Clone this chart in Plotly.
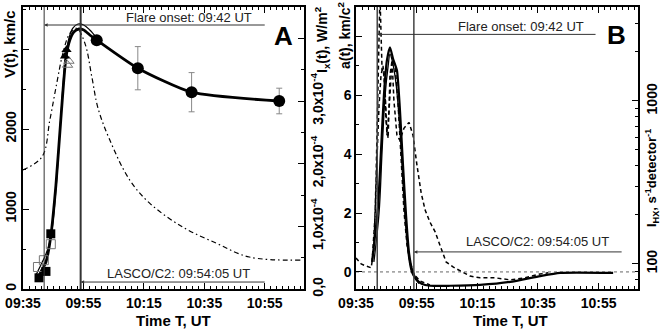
import plotly.graph_objects as go

W, H = 665, 331
def px(x): return x / W
def py(y): return 1 - y / H

FONT = "Liberation Sans, Arial, sans-serif"

# ---------------- DATA (time in minutes after 09:00) ----------------
x_tickvals = [35, 55, 75, 95, 115]
x_ticktext = ["09:35", "09:55", "10:15", "10:35", "10:55"]
flare_onset = 42.0          # 09:42 UT
lasco_time = 54.08          # 09:54:05 UT

# Panel A : CME velocity V(t), km/c
circ_t = [59.4, 73.0, 90.8, 119.8]
circ_v = [3110, 2760, 2460, 2350]
circ_err = [0, 270, 245, 160]

sq_fill_t = [40.3, 42.6, 44.2]
sq_fill_v = [140, 220, 690]
sq_open_t = [39.95, 41.9, 44.2]
sq_open_v = [275, 360, 560]

tri_fill_t = [48.9, 49.4]
tri_fill_v = [2910, 2990]
tri_open_t = [49.75, 50.2]
tri_open_v = [2800, 2850]

fit_t = [39.6, 40.9, 42.6, 44.2, 45.9, 47.5, 49.2, 50.5, 51.8, 53.5, 55.1, 57.1, 59.4, 73.0, 90.8, 119.8]
fit_v = [100, 212, 337, 662, 1300, 2112, 2887, 3112, 3212, 3250, 3237, 3175, 3112, 2760, 2460, 2350]

fit2_t = [39.3, 40.9, 42.6, 44.2, 45.9, 47.5, 48.9, 50.2, 51.5, 53.2, 55.1, 57.1, 59.4]
fit2_v = [175, 300, 437, 637, 1237, 2137, 2837, 3137, 3262, 3312, 3300, 3237, 3137]

# Panel A : soft X-ray flux Ix(t), W/m^2
ix_t = [35.0, 41.3, 43.9, 46.2, 48.2, 50.5, 52.8, 55.5, 57.8, 59.8, 63.7, 70.3, 76.9, 87.8, 99.0, 109.9, 127.1]
ix_v = [1.90e-4, 2.11e-4, 2.70e-4, 3.29e-4, 3.76e-4, 4.08e-4, 4.16e-4, 3.92e-4, 3.38e-4, 2.89e-4,
        2.38e-4, 1.74e-4, 1.37e-4, 0.99e-4, 0.73e-4, 0.51e-4, 0.46e-4]

# Panel B : acceleration a(t), km/c^2
acc1_t = [40.3, 41.3, 42.3, 43.25, 44.2, 45.2, 46.2, 47.2, 48.5, 49.5, 50.5, 51.5, 52.5, 53.5, 54.8,
          56.8, 59.4, 66.0, 75.9, 85.8, 95.7, 102.3, 119.8]
acc1_a = [0.34, 1.25, 2.27, 4.14, 6.0, 7.19, 7.63, 7.25, 6.85, 5.49, 3.63, 1.93, 0.64, 0.07, -0.24,
          -0.41, -0.47, -0.47, -0.44, -0.34, -0.14, -0.03, -0.03]
acc2_t = [40.9, 42.6, 43.6, 44.6, 45.6, 46.2, 46.9, 48.2, 49.5, 50.5, 51.5, 52.5, 53.5, 55.8]
acc2_a = [0.34, 2.0, 4.1, 6.0, 7.0, 7.4, 7.2, 6.4, 4.8, 3.0, 1.4, 0.4, -0.05, -0.4]

hx1_t = [35.0, 36.7, 38.3, 40.0, 40.9, 41.6, 42.3, 42.6, 42.9, 43.6, 44.2, 44.9, 45.6, 46.2, 46.9, 47.5,
         48.5, 49.5, 50.8, 52.5, 53.8, 55.1, 56.5, 57.8, 59.4, 61.1, 62.7, 64.7, 67.0, 70.0, 72.6, 75.9,
         80.9, 85.8, 90.8, 95.7, 98.4]
hx1_a = [0.47, 0.27, 0.2, 0.14, 0.75, 3.1, 6.5, 8.8, 9.4, 6.85, 6.9, 5.15, 4.54, 6.68, 7.19, 5.83,
         4.64, 4.47, 4.88, 5.08, 4.64, 3.63, 2.68, 2.1, 1.69, 1.36, 0.92, 0.34, 0.17, 0.0, -0.14, -0.2,
         -0.2, -0.27, -0.2, -0.07, -0.03]
hx2_t = [40.3, 41.3, 41.9, 42.6, 43.25, 43.9, 44.6, 45.2, 45.9, 46.9, 47.9, 48.9, 49.9, 50.8, 51.8,
         52.8, 54.1, 56.1, 59.4]
hx2_a = [0.34, 1.93, 3.8, 5.66, 6.68, 7.0, 6.17, 4.64, 5.49, 7.19, 7.0, 5.66, 3.8, 2.1, 0.92,
         0.34, -0.07, -0.31, -0.44]

v_tickvals = [0, 1000, 2000, 3000]
v_ticktext = ["0", "1000", "2000", ""]
ix_tickvals = [0, 1e-4, 2e-4, 3e-4, 4e-4]
ix_ticktext = ["0,0", "1,0x10<sup>-4</sup>", "2,0x10<sup>-4</sup>", "3,0x10<sup>-4</sup>", ""]
a_tickvals = [0, 2, 4, 6, 8]
a_ticktext = ["0", "2", "4", "6", ""]
hx_tickvals = [100, 1000]
hx_ticktext = ["100", "1000"]
hx_minor = [70, 80, 90, 200, 300, 400, 500, 600, 700, 800, 900, 2000, 3000]

# ---------------- FIGURE ----------------
fig = go.Figure()
BLK = "black"

# Panel A traces
fig.add_trace(go.Scatter(x=fit2_t, y=fit2_v, mode="lines", line=dict(color=BLK, width=1.2, shape="spline"),
                         xaxis="x", yaxis="y", showlegend=False))
fig.add_trace(go.Scatter(x=fit_t, y=fit_v, mode="lines", line=dict(color=BLK, width=2.8, shape="spline", smoothing=0.6),
                         xaxis="x", yaxis="y", showlegend=False))
fig.add_trace(go.Scatter(x=sq_open_t, y=sq_open_v, mode="markers",
                         marker=dict(symbol="square-open", size=9, color="#777", line=dict(width=1)),
                         xaxis="x", yaxis="y", showlegend=False))
fig.add_trace(go.Scatter(x=sq_fill_t, y=sq_fill_v, mode="markers",
                         marker=dict(symbol="square", size=9, color=BLK),
                         xaxis="x", yaxis="y", showlegend=False))
fig.add_trace(go.Scatter(x=tri_open_t, y=tri_open_v, mode="markers",
                         marker=dict(symbol="triangle-up-open", size=9, color="#777", line=dict(width=1)),
                         xaxis="x", yaxis="y", showlegend=False))
fig.add_trace(go.Scatter(x=tri_fill_t, y=tri_fill_v, mode="markers",
                         marker=dict(symbol="triangle-up", size=9, color=BLK),
                         xaxis="x", yaxis="y", showlegend=False))
fig.add_trace(go.Scatter(x=circ_t, y=circ_v, mode="markers",
                         marker=dict(symbol="circle", size=12, color=BLK),
                         error_y=dict(type="data", array=circ_err, color="#888", thickness=1, width=3),
                         xaxis="x", yaxis="y", showlegend=False))
fig.add_trace(go.Scatter(x=ix_t, y=ix_v, mode="lines",
                         line=dict(color=BLK, width=1.2, dash="5px,3px,1.5px,3px", shape="spline"),
                         xaxis="x", yaxis="y2", showlegend=False))

# Panel B traces
fig.add_trace(go.Scatter(x=[35, 128], y=[0, 0], mode="lines", line=dict(color="#666", width=1, dash="dot"),
                         xaxis="x2", yaxis="y3", showlegend=False))
fig.add_trace(go.Scatter(x=hx1_t, y=hx1_a, mode="lines", line=dict(color=BLK, width=1.5, dash="4px,3px"),
                         xaxis="x2", yaxis="y3", showlegend=False))
fig.add_trace(go.Scatter(x=hx2_t, y=hx2_a, mode="lines", line=dict(color=BLK, width=1.5, dash="4px,3px"),
                         xaxis="x2", yaxis="y3", showlegend=False))
fig.add_trace(go.Scatter(x=acc2_t, y=acc2_a, mode="lines", line=dict(color=BLK, width=1.3, shape="spline"),
                         xaxis="x2", yaxis="y3", showlegend=False))
fig.add_trace(go.Scatter(x=acc1_t, y=acc1_a, mode="lines", line=dict(color=BLK, width=2.2, shape="spline", smoothing=0.5),
                         xaxis="x2", yaxis="y3", showlegend=False))
fig.add_trace(go.Scatter(x=[None], y=[None], mode="lines", xaxis="x2", yaxis="y4", showlegend=False))

tickfont = dict(family=FONT, size=14, color=BLK, weight="bold")
common = dict(showline=True, linecolor=BLK, linewidth=1.5, ticks="inside", tickcolor=BLK, ticklen=6,
              tickwidth=1, showgrid=False, zeroline=False, tickfont=tickfont, automargin=False)

dA = [px(23), px(304)]
dB = [px(356), px(638)]
dY = [py(289), py(7)]

fig.update_layout(
    width=W, height=H, margin=dict(l=0, r=0, t=0, b=0),
    paper_bgcolor="white", plot_bgcolor="white",
    xaxis=dict(domain=dA, anchor="y", range=[35, 128], tickmode="array", tickvals=x_tickvals,
               ticktext=x_ticktext, mirror="ticks",
               minor=dict(tickmode="linear", tick0=35, dtick=2, ticklen=3, ticks="inside", tickcolor=BLK), **common),
    yaxis=dict(domain=dY, anchor="x", range=[0, 3525], tickmode="array", tickvals=v_tickvals,
               ticktext=v_ticktext, tickangle=-90,
               minor=dict(tickmode="linear", tick0=0, dtick=500, ticklen=3, ticks="inside", tickcolor=BLK), **common),
    yaxis2=dict(overlaying="y", side="right", anchor="x", range=[0, 4.5e-4], tickmode="array",
                tickvals=ix_tickvals, ticktext=ix_ticktext, tickangle=-90,
                minor=dict(tickmode="linear", tick0=0, dtick=0.5e-4, ticklen=3, ticks="inside", tickcolor=BLK), **common),
    xaxis2=dict(domain=dB, anchor="y3", range=[35, 128], tickmode="array", tickvals=x_tickvals,
                ticktext=x_ticktext, mirror="ticks",
                minor=dict(tickmode="linear", tick0=35, dtick=2, ticklen=3, ticks="inside", tickcolor=BLK), **common),
    yaxis3=dict(domain=dY, anchor="x2", range=[-0.58, 9], tickmode="array", tickvals=a_tickvals,
                ticktext=a_ticktext,
                minor=dict(tickmode="linear", tick0=0, dtick=1, ticklen=3, ticks="inside", tickcolor=BLK), **common),
    yaxis4=dict(overlaying="y3", side="right", anchor="x2", type="log", range=[1.845, 3.577],
                tickmode="array", tickvals=hx_tickvals, ticktext=hx_ticktext, tickangle=-90,
                minor=dict(tickmode="array", tickvals=hx_minor, ticklen=3, ticks="inside", tickcolor=BLK), **common),
)

# vertical event lines
fig.add_shape(type="line", xref="x", yref="y domain", x0=flare_onset, x1=flare_onset, y0=0, y1=1,
              line=dict(color="#333", width=1))
fig.add_shape(type="line", xref="x", yref="y domain", x0=lasco_time, x1=lasco_time, y0=0, y1=1,
              line=dict(color="#333", width=2))
fig.add_shape(type="line", xref="x2", yref="y3 domain", x0=flare_onset, x1=flare_onset, y0=0, y1=1,
              line=dict(color="#444", width=1.5))
fig.add_shape(type="line", xref="x2", yref="y3 domain", x0=lasco_time, x1=lasco_time, y0=0, y1=1,
              line=dict(color="#444", width=1.5))

# arrows
def arrow(xr, yr, x0, x1, y):
    fig.add_annotation(x=x0, y=y, ax=x1, ay=y, xref=xr, yref=yr, axref=xr, ayref=yr, text="",
                       showarrow=True, arrowhead=2, arrowsize=0.7, arrowwidth=1, arrowcolor="#333")

arrow("x", "y", flare_onset, 115.5, 3300)
arrow("x", "y", lasco_time, 115.5, 87)
arrow("x2", "y3", flare_onset, 114.5, 8.07)
arrow("x2", "y3", lasco_time, 123.1, 0.68)

def txt(x, y, s, size=13, bold=False, angle=0, color="#222"):
    fig.add_annotation(x=px(x), y=py(y), xref="paper", yref="paper", text=s, showarrow=False,
                       xanchor="center", yanchor="middle", textangle=angle,
                       font=dict(family=FONT, size=size, color=color, weight="bold" if bold else "normal"))

txt(189, 18, "Flare onset: 09:42 UT")
txt(178, 273, "LASCO/C2: 09:54:05 UT")
txt(521, 26, "Flare onset: 09:42 UT")
txt(537, 241, "LASCO/C2: 09:54:05 UT")
txt(283, 36, "A", size=26, bold=True, color=BLK)
txt(616, 35, "B", size=26, bold=True, color=BLK)
txt(9, 44, "V(t), km/c", size=15, bold=True, angle=-90, color=BLK)
txt(322, 40, "I<sub>x</sub>(t), W/m<sup>2</sup>", size=14, bold=True, angle=-90, color=BLK)
txt(344, 36, "a(t), km/c<sup>2</sup>", size=14, bold=True, angle=-90, color=BLK)
txt(652, 178, "I<sub>HX</sub>, s<sup>-1</sup>detector<sup>-1</sup>", size=13, bold=True, angle=-90, color=BLK)
txt(173, 320, "Time T, UT", size=15, bold=True, color=BLK)
txt(510, 320, "Time T, UT", size=15, bold=True, color=BLK)

fig.write_html("out.html", config={"displayModeBar": False},
               post_script="document.body.style.margin='0';document.body.style.overflow='hidden';")
